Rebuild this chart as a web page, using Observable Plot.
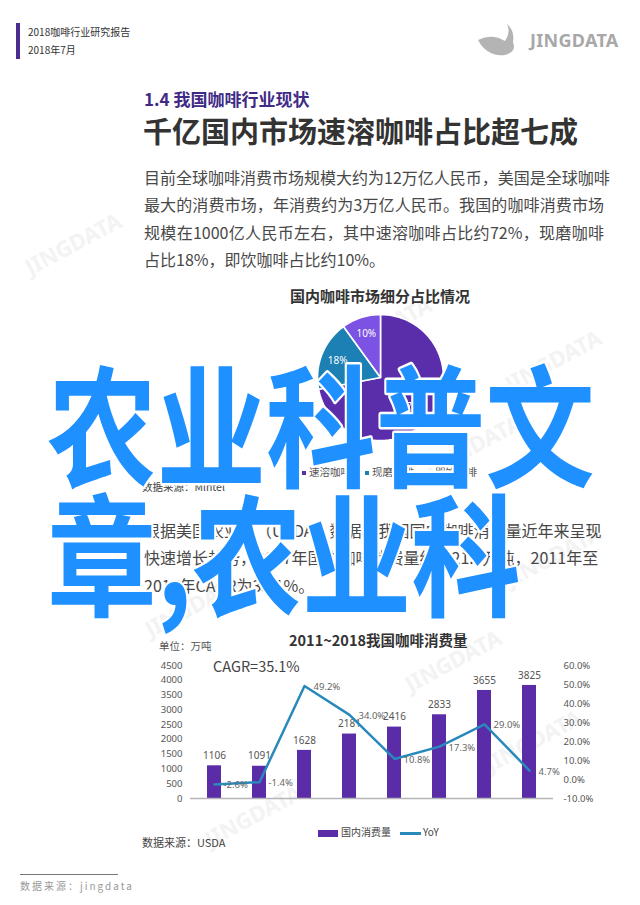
<!DOCTYPE html>
<html><head><meta charset="utf-8">
<script src="https://cdn.jsdelivr.net/npm/d3@7"></script>
<script src="https://cdn.jsdelivr.net/npm/@observablehq/plot@0.6"></script>
<style>
html,body{margin:0;padding:0;background:#fff;}
#page{position:relative;width:640px;height:905px;overflow:hidden;font-family:"Noto Sans CJK SC","Noto Sans",sans-serif;color:#333;background:#fff;}
.abs{position:absolute;white-space:nowrap;line-height:1;}
.para div{position:absolute;left:0;white-space:nowrap;font-size:16px;line-height:20px;color:#484848;}
.just{width:460px;text-align:justify;text-align-last:justify;}
.wm{position:absolute;font-family:"Noto Sans",sans-serif;font-weight:700;font-size:22px;color:#f3f3f3;transform:rotate(-28deg);white-space:nowrap;}
svg{overflow:visible;}
</style></head>
<body><div id="page">
  <div class="wm" style="left:20px;top:228px;">JINGDATA</div>
  <div class="wm" style="left:330px;top:312px;">JINGDATA</div>
  <div class="wm" style="left:500px;top:345px;">JINGDATA</div>
  <div class="wm" style="left:420px;top:430px;">JINGDATA</div>
  <div class="wm" style="left:500px;top:540px;">JINGDATA</div>
  <div class="wm" style="left:140px;top:590px;">JINGDATA</div>
  <div class="wm" style="left:400px;top:645px;">JINGDATA</div>
  <div class="wm" style="left:480px;top:725px;">JINGDATA</div>
  <div class="wm" style="left:200px;top:800px;">JINGDATA</div>

  <div class="abs" style="left:16px;top:23px;width:4px;height:36px;background:#4b2d8f;"></div>
  <div class="abs" style="left:28px;top:27px;font-size:10px;color:#333;">2018咖啡行业研究报告</div>
  <div class="abs" style="left:28px;top:45px;font-size:10px;color:#333;">2018年7月</div>
  <svg class="abs" style="left:0;top:0" width="640" height="80">
    <path d="M478,40 Q492,33 505,41 Q511,32 507,24 Q515,31 513,42 Q517,52 505,55 Q487,57 478,40 Z" fill="#b4b4b4"/>
  </svg>
  <div class="abs" style="left:530px;top:31px;font-family:'Noto Sans',sans-serif;font-weight:700;font-size:18px;color:#a8a8a8;letter-spacing:0.3px;">JINGDATA</div>

  <div class="abs" id="sec" style="left:144px;top:90px;font-size:17px;font-weight:700;color:#3f2a86;"></div>
  <div class="abs" id="ttl" style="left:143px;top:116px;font-size:29px;font-weight:700;color:#333;"></div>
  <div class="para" id="p1" style="position:absolute;left:144px;top:0;"></div>

  <div class="abs" id="pieTitle" style="left:290px;top:288px;font-size:15px;font-weight:700;color:#333;"></div>
  <div id="pie" style="position:absolute;left:300px;top:297px;"></div>
  <div id="pieLegend" class="abs" style="left:302px;top:467px;font-size:10.5px;color:#555;"></div>
  <div class="abs" style="left:142px;top:482px;font-size:10.5px;color:#444;">数据来源：Mintel</div>

  <div class="para" id="p2" style="position:absolute;left:144px;top:0;"></div>

  <div class="abs" id="barTitle" style="left:289px;top:633px;font-size:14.5px;font-weight:700;color:#333;"></div>
  <div class="abs" style="left:159px;top:641px;font-size:10.5px;color:#555;">单位：万吨</div>
  <div class="abs" style="left:213px;top:659px;font-size:14.5px;color:#444;">CAGR=35.1%</div>
  <div id="bar" style="position:absolute;left:130px;top:650px;"></div>
  <div id="barLegend" class="abs" style="left:318px;top:827px;font-size:10px;color:#444;"></div>
  <div class="abs" style="left:142px;top:837px;font-size:11px;color:#444;">数据来源：USDA</div>

  <div class="abs" style="left:20px;top:874px;width:98px;height:1px;background:#777;"></div>
  <div class="abs" style="left:20px;top:881px;font-size:10px;color:#999;letter-spacing:2px;">数据来源：jingdata</div>

  <svg id="overlay" style="position:absolute;left:0;top:0;" width="640" height="905"></svg>
</div>
<script>
// ---------- data ----------
const sectionTitle = "1.4 我国咖啡行业现状";
const mainTitle = "千亿国内市场速溶咖啡占比超七成";
const para1 = [
  "目前全球咖啡消费市场规模大约为12万亿人民币，美国是全球咖啡",
  "最大的消费市场，年消费约为3万亿人民币。我国的咖啡消费市场",
  "规模在1000亿人民币左右，其中速溶咖啡占比约72%，现磨咖啡",
  "占比18%，即饮咖啡占比约10%。"
];
const para2 = [
  "根据美国农业部（USDA）数据，我国国内咖啡消费量近年来呈现",
  "快速增长趋势，2017年国内咖啡消费量约为21.9万吨，2011年至",
  "2017年CAGR为35.1%。"
];
const pieTitle = "国内咖啡市场细分占比情况";
const pieCats = ["速溶咖啡", "现磨咖啡", "即饮咖啡"];
const pieShares = [72, 18, 10];
const pieColors = ["#5a2dab", "#1d80b4", "#7b52e4"];

const barTitle = "2011~2018我国咖啡消费量";
const years = ["2011", "2012", "2013", "2014", "2015", "2016", "2017", "2018"];
const consumption = [1106, 1091, 1628, 2181, 2416, 2833, 3655, 3825];
const yoy = [-2.6, -1.4, 49.2, 34.0, 10.8, 17.3, 29.0, 4.7];
const leftTicks = [0, 500, 1000, 1500, 2000, 2500, 3000, 3500, 4000, 4500];
const rightTicks = [-10, 0, 10, 20, 30, 40, 50, 60];
const barSeries = ["国内消费量", "YoY"];
const barColor = "#5a2ca8";
const lineColor = "#2a89bb";

const overlayLines = ["农业科普文", "章,农业科"];

// ---------- texts ----------
document.getElementById("sec").textContent = sectionTitle;
document.getElementById("ttl").textContent = mainTitle;
document.getElementById("pieTitle").textContent = pieTitle;
document.getElementById("barTitle").textContent = barTitle;

function para(id, lines, top0, justifyCount, widthPx) {
  const el = document.getElementById(id);
  lines.forEach((t, i) => {
    const d = document.createElement("div");
    d.textContent = t;
    d.style.top = (top0 + i * 27.3) + "px";
    if (i < justifyCount) { d.className = "just"; d.style.width = widthPx + "px"; }
    el.appendChild(d);
  });
}
para("p1", para1, 167, 3, 460);
para("p2", para2, 520, 0, 454);

// ---------- pie ----------
const pieData = pieCats.map((c, i) => ({cat: c, share: pieShares[i]}));
const arcs = d3.pie().sort(null).value(d => d.share)(pieData);
const piePts = [];
const pieLabels = [];
arcs.forEach(a => {
  const n = Math.max(4, Math.ceil((a.endAngle - a.startAngle) / (Math.PI * 2) * 120));
  piePts.push({cat: a.data.cat, x: 0, y: 0});
  for (let k = 0; k <= n; k++) {
    const t = a.startAngle + (a.endAngle - a.startAngle) * k / n;
    piePts.push({cat: a.data.cat, x: Math.sin(t), y: Math.cos(t)});
  }
  piePts.push({cat: a.data.cat, x: 0, y: 0});
  const m = (a.startAngle + a.endAngle) / 2;
  pieLabels.push({x: 0.73 * Math.sin(m), y: 0.73 * Math.cos(m), text: a.data.share + "%"});
});
const pie = Plot.plot({
  width: 160, height: 160, margin: 0,
  x: {domain: [-1.27, 1.27], axis: null},
  y: {domain: [-1.27, 1.27], axis: null},
  style: {background: "transparent", fontFamily: "'Noto Sans', sans-serif"},
  marks: [
    ...pieCats.map((c, i) => Plot.line(piePts.filter(p => p.cat === c), {
      x: "x", y: "y", fill: pieColors[i], stroke: "#fff", strokeWidth: 1.6, curve: "linear"
    })),
    Plot.text(pieLabels, {x: "x", y: "y", text: "text", fill: "#fff", fontSize: 10})
  ]
});
document.getElementById("pie").appendChild(pie);

const pl = document.getElementById("pieLegend");
pieCats.forEach((c, i) => {
  const s = document.createElement("span");
  s.style.marginRight = "14px";
  s.innerHTML = `<span style="display:inline-block;width:4px;height:4px;background:${pieColors[i]};margin-right:3px;vertical-align:middle;"></span>${c}`;
  pl.appendChild(s);
});

// ---------- bar + line ----------
const toY = p => (p + 10) / 70 * 4500;
const fromY = v => v / 4500 * 70 - 10;
const barData = years.map((y, i) => ({year: y, value: consumption[i], yoy: yoy[i]}));
const bar = Plot.plot({
  width: 470, height: 160,
  marginLeft: 60, marginRight: 47, marginTop: 15, marginBottom: 12,
  x: {type: "band", domain: years, paddingInner: 0.69, paddingOuter: 0.345, axis: null},
  y: {domain: [0, 4500], axis: null},
  style: {background: "transparent", fontFamily: "'Noto Sans', sans-serif", fontSize: "9.5px", color: "#555"},
  marks: [
    Plot.axisY(leftTicks, {anchor: "left", tickSize: 0, tickPadding: 8, fontSize: 9.5, label: null,
      tickFormat: d => String(d)}),
    Plot.axisY(rightTicks.map(toY), {anchor: "right", tickSize: 0, tickPadding: 10, fontSize: 9.5, label: null,
      tickFormat: d => fromY(d).toFixed(1) + "%"}),
    Plot.barY(barData, {x: "year", y: "value", fill: barColor}),
    Plot.ruleY([0], {stroke: "#b5b5b5", strokeWidth: 1.5}),
    Plot.text(barData, {x: "year", y: "value", text: d => String(d.value), dy: -10, fontSize: 10, fill: "#555"}),
    Plot.line(barData, {x: "year", y: d => toY(d.yoy), stroke: lineColor, strokeWidth: 2.5}),
    Plot.text(barData, {x: "year", y: d => toY(d.yoy), text: d => d.yoy.toFixed(1) + "%",
      dx: 9, dy: 1, textAnchor: "start", fontSize: 9.5, fill: "#666"})
  ]
});
document.getElementById("bar").appendChild(bar);

document.getElementById("barLegend").innerHTML =
  `<span style="display:inline-block;width:20px;height:7px;background:${barColor};vertical-align:middle;margin-right:3px;"></span>${barSeries[0]}` +
  `<span style="display:inline-block;width:21px;height:2.5px;background:${lineColor};vertical-align:middle;margin:0 2px 0 9px;"></span>${barSeries[1]}`;

// ---------- overlay ----------
const ov = d3.select("#overlay");
const g = ov.append("g").attr("transform", "translate(47,0) scale(0.83,1)");
overlayLines.forEach((t, i) => {
  g.append("text").attr("x", 0).attr("y", 477 + i * 129)
    .attr("font-family", "'Noto Sans CJK SC', sans-serif")
    .attr("font-weight", 700).attr("font-size", 132)
    .attr("fill", "#1e90ff").attr("stroke", "#fff").attr("stroke-width", 5)
    .attr("stroke-linejoin", "round").attr("paint-order", "stroke")
    .text(t);
});
</script>
</body></html>
